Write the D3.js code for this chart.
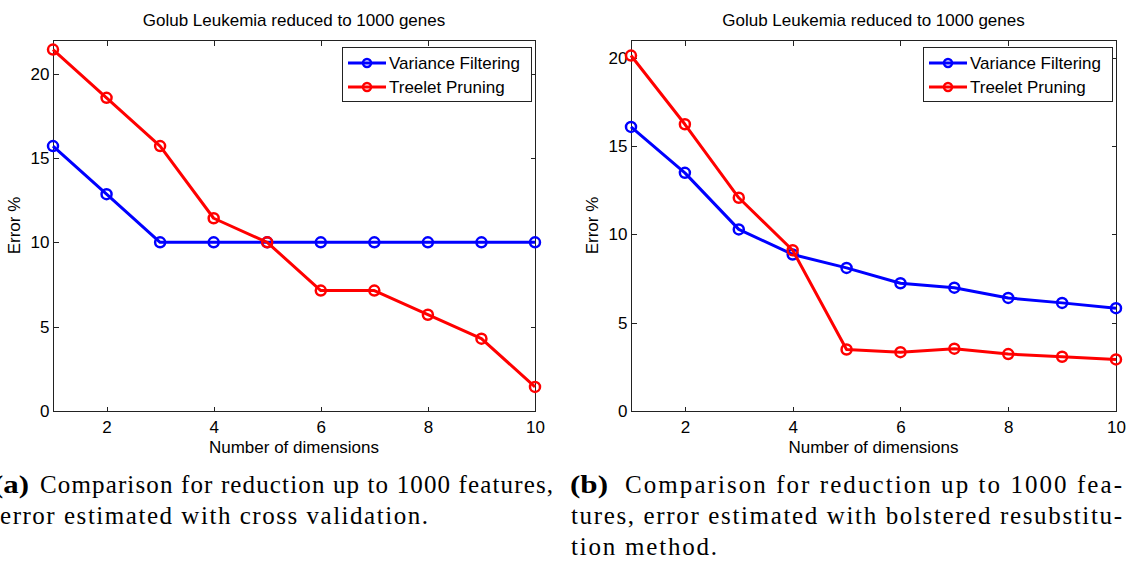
<!DOCTYPE html>
<html>
<head>
<meta charset="utf-8">
<script src="https://cdn.jsdelivr.net/npm/d3@7"></script>
<style>
  body { margin: 0; background: #fff; }
  svg { display: block; }
</style>
</head>
<body>
<svg id="fig" width="1126" height="561"></svg>
<script>
// Error rates (%) by number of retained dimensions
const dims = [1, 2, 3, 4, 5, 6, 7, 8, 9, 10];
const varianceCV = [15.71, 12.86, 10, 10, 10, 10, 10, 10, 10, 10];
const treeletCV  = [21.43, 18.57, 15.71, 11.43, 10, 7.14, 7.14, 5.71, 4.29, 1.43];
const varianceBR = [16.08, 13.48, 10.28, 8.86, 8.10, 7.23, 6.98, 6.40, 6.12, 5.82];
const treeletBR  = [20.12, 16.23, 12.07, 9.10, 3.48, 3.33, 3.53, 3.22, 3.07, 2.92];

const seriesNames = ["Variance Filtering", "Treelet Pruning"];
const xTicks = [2, 4, 6, 8, 10];
const yTicks = [0, 5, 10, 15, 20];
const xLimits = [1, 10];
const yLimitsCV = [0, 22];
const yLimitsBR = [0, 21];
const chartTitle = "Golub Leukemia reduced to 1000 genes";
const xLabel = "Number of dimensions";
const yLabel = "Error %";

const captionLabels = ["(a)", "(b)"];
const captionLinesA = ["Comparison for reduction up to 1000 features,",
                       "error estimated with cross validation."];
const captionLinesB = ["Comparison for reduction up to 1000 fea-",
                       "tures, error estimated with bolstered resubstitu-",
                       "tion method."];

const colors = ["#0000ff", "#ff0000"];
const sansFont = "'Liberation Sans', Arial, Helvetica, sans-serif";
const serifFont = "'Liberation Serif', 'Times New Roman', serif";

const svg = d3.select("#fig");
svg.append("rect").attr("width", 1126).attr("height", 561).attr("fill", "#fff");

function drawPanel(box, yLimits, series) {
  const x = d3.scaleLinear().domain(xLimits).range([box.left, box.right]);
  const y = d3.scaleLinear().domain(yLimits).range([box.bottom, box.top]);
  const g = svg.append("g").attr("font-family", sansFont);

  // plot frame
  g.append("rect")
    .attr("x", box.left + 0.5).attr("y", box.top + 0.5)
    .attr("width", box.right - box.left).attr("height", box.bottom - box.top)
    .attr("fill", "none").attr("stroke", "#222").attr("stroke-width", 1);

  const tick = 5;
  const styleAxis = sel => {
    sel.select(".domain").remove();
    sel.selectAll(".tick line").attr("stroke", "#222").attr("shape-rendering", "crispEdges");
    sel.selectAll(".tick text").attr("fill", "#000").attr("font-size", 17).attr("font-family", sansFont);
  };

  g.append("g").attr("transform", `translate(0,${box.bottom + 0.5})`)
    .call(d3.axisBottom(x).tickValues(xTicks).tickSize(-tick).tickPadding(9).tickFormat(d3.format("d")))
    .call(styleAxis);
  g.append("g").attr("transform", `translate(0,${box.top + 0.5})`)
    .call(d3.axisTop(x).tickValues(xTicks).tickSize(-tick).tickFormat(""))
    .call(styleAxis);
  g.append("g").attr("transform", `translate(${box.left + 0.5},0)`)
    .call(d3.axisLeft(y).tickValues(yTicks).tickSize(-tick).tickPadding(4).tickFormat(d3.format("d")))
    .call(styleAxis);
  g.append("g").attr("transform", `translate(${box.right + 0.5},0)`)
    .call(d3.axisRight(y).tickValues(yTicks).tickSize(-tick).tickFormat(""))
    .call(styleAxis);

  // titles
  const cx = (box.left + box.right) / 2;
  g.append("text").attr("x", cx).attr("y", 26).attr("text-anchor", "middle")
    .attr("font-size", 17).text(chartTitle);
  g.append("text").attr("x", cx).attr("y", 453).attr("text-anchor", "middle")
    .attr("font-size", 17).text(xLabel);
  g.append("text")
    .attr("transform", `translate(${box.left - 33},${(box.top + box.bottom) / 2}) rotate(-90)`)
    .attr("text-anchor", "middle").attr("font-size", 17).text(yLabel);

  // series lines and open circle markers
  const line = d3.line().x((d, i) => x(dims[i])).y(d => y(d));
  series.forEach((vals, s) => {
    g.append("path").datum(vals).attr("d", line)
      .attr("fill", "none").attr("stroke", colors[s]).attr("stroke-width", 3)
      .attr("stroke-linejoin", "round");
    g.selectAll(null).data(vals).enter().append("circle")
      .attr("cx", (d, i) => x(dims[i])).attr("cy", d => y(d)).attr("r", 5)
      .attr("fill", "none").attr("stroke", colors[s]).attr("stroke-width", 2.5);
  });

  // legend
  const lw = 189, lh = 54;
  const lx = box.right - 4 - lw, ly = box.top + 7;
  const lg = g.append("g");
  lg.append("rect").attr("x", lx + 0.5).attr("y", ly + 0.5).attr("width", lw).attr("height", lh)
    .attr("fill", "#fff").attr("stroke", "#222").attr("stroke-width", 1);
  seriesNames.forEach((name, s) => {
    const ry = ly + 16 + s * 24;
    lg.append("line").attr("x1", lx + 6).attr("x2", lx + 44).attr("y1", ry).attr("y2", ry)
      .attr("stroke", colors[s]).attr("stroke-width", 3);
    lg.append("circle").attr("cx", lx + 25).attr("cy", ry).attr("r", 4)
      .attr("fill", "none").attr("stroke", colors[s]).attr("stroke-width", 2.5);
    lg.append("text").attr("x", lx + 47).attr("y", ry + 6).attr("font-size", 17).text(name);
  });
}

drawPanel({left: 53, right: 535, top: 40, bottom: 411}, yLimitsCV, [varianceCV, treeletCV]);
drawPanel({left: 631, right: 1116, top: 40, bottom: 411}, yLimitsBR, [varianceBR, treeletBR]);

// sub-figure captions
const cap = svg.append("g").attr("font-family", serifFont).attr("font-size", 25).attr("fill", "#000");
const baselines = [493, 524, 555];

cap.append("text").attr("x", 29).attr("y", baselines[0]).attr("text-anchor", "end")
  .attr("font-weight", "bold").attr("textLength", 36).attr("lengthAdjust", "spacingAndGlyphs")
  .text(captionLabels[0]);
const capA = [{x: 40, w: 513}, {x: 0, w: 428}];
captionLinesA.forEach((t, i) => {
  cap.append("text").attr("x", capA[i].x).attr("y", baselines[i])
    .attr("textLength", capA[i].w).attr("lengthAdjust", "spacing").text(t);
});

cap.append("text").attr("x", 570).attr("y", baselines[0])
  .attr("font-weight", "bold").attr("textLength", 38).attr("lengthAdjust", "spacingAndGlyphs")
  .text(captionLabels[1]);
const capB = [{x: 625, w: 497}, {x: 571, w: 551}, {x: 571, w: 146}];
captionLinesB.forEach((t, i) => {
  cap.append("text").attr("x", capB[i].x).attr("y", baselines[i])
    .attr("textLength", capB[i].w).attr("lengthAdjust", "spacing").text(t);
});
</script>
</body>
</html>
